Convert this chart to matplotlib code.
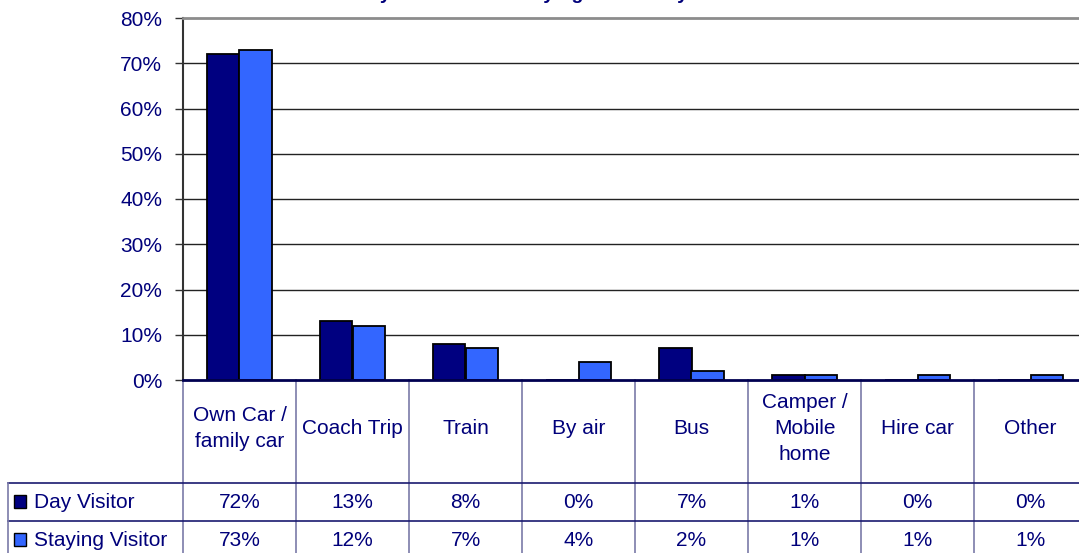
import numpy as np
import matplotlib.pyplot as plt
from matplotlib.transforms import blended_transform_factory
from matplotlib.patches import Rectangle

categories = ['Own Car /\nfamily car', 'Coach Trip', 'Train', 'By air', 'Bus',
              'Camper /\nMobile\nhome', 'Hire car', 'Other']
day_visitor = [72, 13, 8, 0, 7, 1, 0, 0]
staying_visitor = [73, 12, 7, 4, 2, 1, 1, 1]
series_names = ['Day Visitor', 'Staying Visitor']
y_ticks = [0, 10, 20, 30, 40, 50, 60, 70, 80]
title = 'Day Visitors and Staying Visitors by Mode of Travel'

navy = '#000080'
blue = '#3366FF'
text_col = '#00007a'
fs = 15
plt.rcParams['font.family'] = ['Liberation Sans', 'DejaVu Sans']

W, H = 1079, 553
fig = plt.figure(figsize=(W / 100, H / 100), dpi=100)

# plot area in pixels: left 183, top 18, bottom 380, 8 columns of ~113 px
left, top, bottom, colw = 183, 18, 380, 113
ax = fig.add_axes([left / W, 1 - bottom / H, 8 * colw / W, (bottom - top) / H])

x = np.arange(len(categories))
bw = 0.29
ax.bar(x - bw / 2, day_visitor, bw, color=navy, edgecolor='black', linewidth=1.3, zorder=3)
ax.bar(x + bw / 2, staying_visitor, bw, color=blue, edgecolor='black', linewidth=1.3, zorder=3)

ax.set_xlim(-0.5, len(categories) - 0.5)
ax.set_ylim(0, 80)
ax.set_yticks(y_ticks)
ax.set_yticklabels([f'{v}%' for v in y_ticks], color=text_col, fontsize=fs)
ax.tick_params(axis='y', length=6, width=1, color='#333333', pad=9)
ax.set_xticks([])
for v in y_ticks[1:-1]:
    ax.axhline(v, color='#222222', linewidth=1, zorder=1)
ax.spines['right'].set_visible(False)
ax.spines['top'].set_color('#8c8c8c')
ax.spines['top'].set_linewidth(2)
ax.spines['left'].set_color('#333333')
ax.spines['left'].set_linewidth(1.5)
ax.spines['bottom'].set_color('#000050')
ax.spines['bottom'].set_linewidth(2)
ax.spines['bottom'].set_zorder(4)

# data table underneath, x in data units, y in figure pixels from top
tr = blended_transform_factory(ax.transData, fig.transFigure)
trp = fig.transFigure


def fy(py):
    return 1 - py / H


hdr_bot, row1_bot, row2_bot = 483, 521, 553
line_col = '#7a7aa8'
row_col = '#1a1a70'
for i in range(len(categories) + 1):
    ax.plot([i - 0.5, i - 0.5], [fy(bottom), fy(H + 2)], transform=tr,
            color=line_col, linewidth=1.2, clip_on=False)
for py in [hdr_bot, row1_bot]:
    fig.add_artist(plt.Line2D([8 / W, 1], [fy(py), fy(py)], color=row_col, linewidth=1.2))
fig.add_artist(plt.Line2D([8 / W, 8 / W], [fy(hdr_bot), 0], color=line_col, linewidth=1.2))

for i, c in enumerate(categories):
    ax.text(i, fy((bottom + hdr_bot) / 2 - 3), c, transform=tr, ha='center', va='center',
            fontsize=fs, color=text_col, linespacing=1.45, clip_on=False)
    ax.text(i, fy((hdr_bot + row1_bot) / 2), f'{day_visitor[i]}%', transform=tr,
            ha='center', va='center', fontsize=fs, color=text_col)
    ax.text(i, fy((row1_bot + row2_bot) / 2 + 3), f'{staying_visitor[i]}%', transform=tr,
            ha='center', va='center', fontsize=fs, color=text_col)

for name, col, py in [(series_names[0], navy, (hdr_bot + row1_bot) / 2),
                      (series_names[1], blue, (row1_bot + row2_bot) / 2 + 3)]:
    fig.add_artist(Rectangle((14 / W, fy(py + 6)), 12 / W, 13 / H, facecolor=col,
                             edgecolor='black', linewidth=1, transform=trp))
    fig.text(34 / W, fy(py), name, ha='left', va='center', fontsize=fs, color=text_col)

# title: only its descenders show at the top edge, as in the original
fig.text(355 / W, fy(-1), title, ha='left', va='baseline', fontsize=14,
         fontweight='bold', color=text_col)

fig.savefig('out.png', dpi=100)
